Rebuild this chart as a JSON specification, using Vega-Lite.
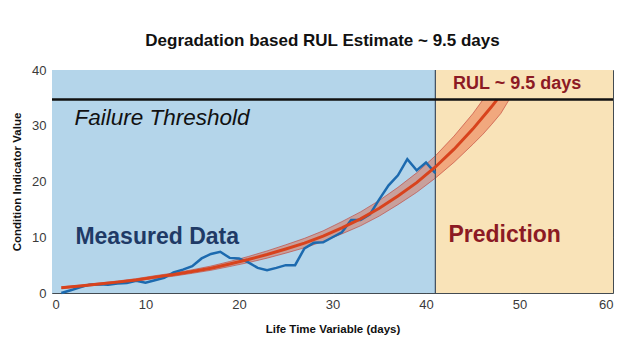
{
  "$schema": "https://vega.github.io/schema/vega-lite/v6.json",
  "width": 561,
  "height": 223,
  "autosize": {"type": "none"},
  "padding": {"left": 52, "top": 70, "right": 17, "bottom": 67},
  "title": {
    "text": "Degradation based RUL Estimate ~ 9.5 days",
    "font": "Liberation Sans",
    "fontSize": 17,
    "fontWeight": "bold",
    "color": "#111111",
    "anchor": "middle",
    "dx": -10,
    "offset": 14
  },
  "config": {
    "view": {"stroke": "#3a3a3a", "strokeWidth": 1},
    "axis": {
      "zindex": 1,
      "grid": true,
      "gridColor": "#5f7f99",
      "gridOpacity": 0.25,
      "gridWidth": 1,
      "domain": false,
      "ticks": false,
      "labelFont": "Liberation Sans",
      "labelFontSize": 13,
      "labelColor": "#3a3a3a",
      "titleFont": "Liberation Sans",
      "titleFontSize": 11.5,
      "titleFontWeight": "bold",
      "titleColor": "#111111"
    }
  },
  "datasets": {
    "regions": [
      {"start": 0, "end": 41, "region": "Measured"},
      {"start": 41, "end": 60, "region": "Prediction"}
    ],
    "measured": [
      {"day": 1, "value": 0}, {"day": 2, "value": 0.5}, {"day": 3, "value": 1.0}, {"day": 4, "value": 1.5},
      {"day": 5, "value": 1.55}, {"day": 6, "value": 1.5}, {"day": 7, "value": 1.7}, {"day": 8, "value": 1.8},
      {"day": 9, "value": 2.2}, {"day": 10, "value": 1.85}, {"day": 11, "value": 2.3}, {"day": 12, "value": 2.7},
      {"day": 13, "value": 3.7}, {"day": 14, "value": 4.2}, {"day": 15, "value": 4.8}, {"day": 16, "value": 6.2},
      {"day": 17, "value": 7.0}, {"day": 18, "value": 7.4}, {"day": 19, "value": 6.3}, {"day": 20, "value": 6.2},
      {"day": 21, "value": 5.5}, {"day": 22, "value": 4.5}, {"day": 23, "value": 4.1}, {"day": 24, "value": 4.5},
      {"day": 25, "value": 5.0}, {"day": 26, "value": 5.0}, {"day": 27, "value": 8.0}, {"day": 28, "value": 9.0},
      {"day": 29, "value": 9.1}, {"day": 30, "value": 10.0}, {"day": 31, "value": 10.9}, {"day": 32, "value": 13.1},
      {"day": 33, "value": 13.1}, {"day": 34, "value": 14.1}, {"day": 35, "value": 16.8}, {"day": 36, "value": 19.3},
      {"day": 37, "value": 21.1}, {"day": 38, "value": 24.0}, {"day": 39, "value": 22.0}, {"day": 40, "value": 23.4},
      {"day": 41, "value": 21.5}
    ],
    "fit": [
      {"day": 1, "value": 0.95}, {"day": 3, "value": 1.25}, {"day": 5, "value": 1.6}, {"day": 7, "value": 1.95},
      {"day": 9, "value": 2.35}, {"day": 11, "value": 2.85}, {"day": 13, "value": 3.3}, {"day": 15, "value": 3.85},
      {"day": 17, "value": 4.45}, {"day": 19, "value": 5.2}, {"day": 21, "value": 6.0}, {"day": 23, "value": 6.9},
      {"day": 25, "value": 7.9}, {"day": 27, "value": 8.95}, {"day": 29, "value": 10.2}, {"day": 31, "value": 11.7},
      {"day": 33, "value": 13.3}, {"day": 35, "value": 15.2}, {"day": 37, "value": 17.4}, {"day": 39, "value": 19.8},
      {"day": 41, "value": 22.6}, {"day": 43, "value": 25.8}, {"day": 45, "value": 29.4}, {"day": 47, "value": 33.4},
      {"day": 47.6, "value": 34.7}
    ],
    "band": [
      {"day": 1, "lo": 0.8, "hi": 1.1}, {"day": 3, "lo": 1.1, "hi": 1.4}, {"day": 5, "lo": 1.43, "hi": 1.77},
      {"day": 7, "lo": 1.75, "hi": 2.15}, {"day": 9, "lo": 2.13, "hi": 2.57}, {"day": 11, "lo": 2.6, "hi": 3.1},
      {"day": 13, "lo": 3.02, "hi": 3.58}, {"day": 15, "lo": 3.53, "hi": 4.17}, {"day": 17, "lo": 4.07, "hi": 4.83},
      {"day": 19, "lo": 4.75, "hi": 5.65}, {"day": 21, "lo": 5.45, "hi": 6.55}, {"day": 23, "lo": 6.25, "hi": 7.55},
      {"day": 25, "lo": 7.15, "hi": 8.65}, {"day": 27, "lo": 8.1, "hi": 9.8}, {"day": 29, "lo": 9.25, "hi": 11.15},
      {"day": 31, "lo": 10.6, "hi": 12.8}, {"day": 33, "lo": 12.05, "hi": 14.55}, {"day": 35, "lo": 13.8, "hi": 16.6},
      {"day": 37, "lo": 15.85, "hi": 18.95}, {"day": 39, "lo": 18.05, "hi": 21.55}, {"day": 41, "lo": 20.6, "hi": 24.6},
      {"day": 43, "lo": 23.45, "hi": 28.15}, {"day": 45, "lo": 26.65, "hi": 32.15}, {"day": 46.1, "lo": 28.5, "hi": 34.7},
      {"day": 47, "lo": 30.2, "hi": 34.7}, {"day": 48, "lo": 32.2, "hi": 34.7}, {"day": 48.9, "lo": 34.7, "hi": 34.7}
    ]
  },
  "encoding": {
    "x": {
      "type": "quantitative",
      "scale": {"domain": [0, 60], "nice": false},
      "axis": {"values": [0, 10, 20, 30, 40, 50, 60], "title": "Life Time Variable (days)", "labelPadding": 5, "titlePadding": 12}
    }
  },
  "layer": [
    {
      "data": {"name": "regions"},
      "mark": {"type": "rect"},
      "encoding": {
        "x": {"field": "start", "type": "quantitative"},
        "x2": {"field": "end"},
        "y": {"datum": 0, "type": "quantitative", "scale": {"domain": [0, 40], "nice": false},
              "axis": {"values": [0, 10, 20, 30, 40], "title": "Condition Indicator Value", "labelPadding": 6, "titlePadding": 9}},
        "y2": {"datum": 40},
        "color": {"field": "region", "type": "nominal", "scale": {"domain": ["Measured", "Prediction"], "range": ["#b4d5ea", "#f9e3b8"]}, "legend": null}
      }
    },
    {
      "data": {"name": "band"},
      "mark": {"type": "area", "color": "#e65028", "opacity": 0.4},
      "encoding": {
        "x": {"field": "day", "type": "quantitative"},
        "y": {"field": "lo", "type": "quantitative"},
        "y2": {"field": "hi"}
      }
    },
    {
      "data": {"name": "band"},
      "mark": {"type": "line", "color": "#c0443a", "strokeWidth": 0.8, "opacity": 0.8},
      "encoding": {
        "x": {"field": "day", "type": "quantitative"},
        "y": {"field": "lo", "type": "quantitative"}
      }
    },
    {
      "data": {"name": "band"},
      "mark": {"type": "line", "color": "#c0443a", "strokeWidth": 0.8, "opacity": 0.8},
      "encoding": {
        "x": {"field": "day", "type": "quantitative"},
        "y": {"field": "hi", "type": "quantitative"}
      }
    },
    {
      "data": {"values": [{"day": 41}]},
      "mark": {"type": "rule", "color": "#3d4b5c", "strokeWidth": 1.2},
      "encoding": {
        "x": {"field": "day", "type": "quantitative"}
      }
    },
    {
      "data": {"name": "measured"},
      "mark": {"type": "line", "color": "#1c6aaf", "strokeWidth": 2.5},
      "encoding": {
        "x": {"field": "day", "type": "quantitative"},
        "y": {"field": "value", "type": "quantitative"}
      }
    },
    {
      "data": {"name": "fit"},
      "mark": {"type": "line", "color": "#d8431d", "strokeWidth": 3},
      "encoding": {
        "x": {"field": "day", "type": "quantitative"},
        "y": {"field": "value", "type": "quantitative"}
      }
    },
    {
      "data": {"values": [{"threshold": 34.7}]},
      "mark": {"type": "rule", "color": "#111111", "strokeWidth": 2.5},
      "encoding": {
        "y": {"field": "threshold", "type": "quantitative"}
      }
    },
    {
      "data": {"values": [{"day": 2.4, "value": 31.4, "label": "Failure Threshold"}]},
      "mark": {"type": "text", "font": "Liberation Sans", "fontSize": 22.5, "fontStyle": "italic", "color": "#111111", "align": "left", "baseline": "middle"},
      "encoding": {
        "x": {"field": "day", "type": "quantitative"},
        "y": {"field": "value", "type": "quantitative"},
        "text": {"field": "label"}
      }
    },
    {
      "data": {"values": [{"day": 2.5, "value": 10.1, "label": "Measured Data"}]},
      "mark": {"type": "text", "font": "Liberation Sans", "fontSize": 23, "fontWeight": "bold", "color": "#1f3a66", "align": "left", "baseline": "middle"},
      "encoding": {
        "x": {"field": "day", "type": "quantitative"},
        "y": {"field": "value", "type": "quantitative"},
        "text": {"field": "label"}
      }
    },
    {
      "data": {"values": [{"day": 42.4, "value": 10.4, "label": "Prediction"}]},
      "mark": {"type": "text", "font": "Liberation Sans", "fontSize": 23, "fontWeight": "bold", "color": "#8c1a24", "align": "left", "baseline": "middle"},
      "encoding": {
        "x": {"field": "day", "type": "quantitative"},
        "y": {"field": "value", "type": "quantitative"},
        "text": {"field": "label"}
      }
    },
    {
      "data": {"values": [{"day": 42.9, "value": 37.5, "label": "RUL ~ 9.5 days"}]},
      "mark": {"type": "text", "font": "Liberation Sans", "fontSize": 18, "fontWeight": "bold", "color": "#8c1a24", "align": "left", "baseline": "middle"},
      "encoding": {
        "x": {"field": "day", "type": "quantitative"},
        "y": {"field": "value", "type": "quantitative"},
        "text": {"field": "label"}
      }
    }
  ]
}
